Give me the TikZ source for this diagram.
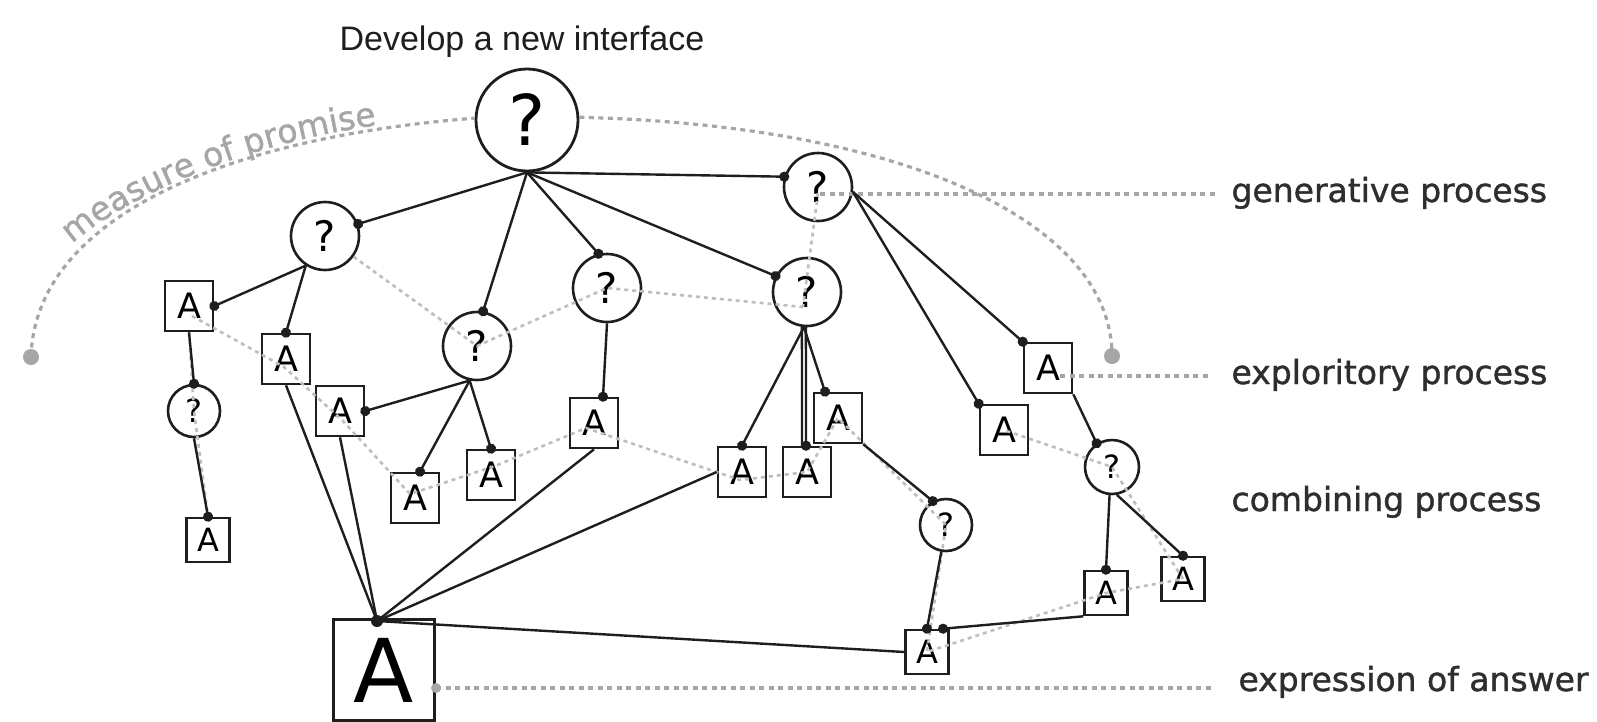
\documentclass[tikz,border=0pt]{standalone}
\usepackage{fontspec}
\setmainfont{DejaVu Sans}
\newfontfamily\titlefont{Liberation Sans}
\newfontfamily\procfont{DejaVu Sans}[FakeBold=1.2]
\usetikzlibrary{calc,arrows.meta,decorations.text}

\definecolor{inkc}{HTML}{1E1E1E}
\definecolor{dotgray}{HTML}{A6A6A6}
\definecolor{linkgray}{HTML}{BEBEBE}
\definecolor{labelc}{HTML}{2E2E2E}

\begin{document}
\begin{tikzpicture}[x=1pt,y=-1pt,
  qbig/.style={circle, draw=inkc, line width=2.8pt, inner sep=0pt, minimum size=102pt,
    font=\fontsize{70}{70}\selectfont},
  qnode/.style={circle, draw=inkc, line width=2.6pt, inner sep=0pt, minimum size=68pt,
    font=\fontsize{42}{42}\selectfont},
  qsmall/.style={qnode, minimum size=52pt, font=\fontsize{32}{32}\selectfont},
  anode/.style={rectangle, draw=inkc, line width=2.6pt, inner sep=0pt,
    minimum width=48pt, minimum height=50pt, font=\fontsize{35}{35}\selectfont},
  asmall/.style={anode, minimum width=43pt, minimum height=44pt,
    font=\fontsize{32}{32}\selectfont},
  abig/.style={anode, line width=3pt, minimum width=101pt, minimum height=101pt,
    font=\fontsize{88}{88}\selectfont},
  wire/.style={draw=inkc, line width=2.4pt},
  link/.style={wire, -{Circle[length=10pt,width=10pt]}, shorten >=-5pt},
  combine/.style={draw=linkgray, line width=2.6pt, dash pattern=on 4pt off 4pt},
  promise/.style={draw=dotgray, line width=3.2pt, dash pattern=on 5pt off 4.5pt},
  procname/.style={anchor=base west, text=labelc, font=\procfont\fontsize{33}{33}\selectfont},
]
\fill[white] (0,0) rectangle (1597,721);
\useasboundingbox (0,0) rectangle (1597,721);

% ---------- nodes ----------
\node[qbig] (root) at (527,120) {?};
\node[qnode] (q1) at (325,236) {?};
\node[qnode] (q2) at (477,346) {?};
\node[qnode] (q3) at (607,288) {?};
\node[qnode] (q4) at (807,292) {?};
\node[qnode] (q5) at (818,187) {?};
\node[qsmall] (ql) at (194,411) {?};
\node[qsmall] (q6) at (946,525) {?};
\node[qsmall, minimum size=54pt] (q7) at (1112,467) {?};

\node[anode] (a1) at (189,306) {A};
\node[anode] (a2) at (286,359) {A};
\node[anode] (a3) at (340,411) {A};
\node[anode] (a4) at (415,498) {A};
\node[anode] (a5) at (491,475) {A};
\node[anode] (a6) at (594,423) {A};
\node[anode] (a7) at (742,472) {A};
\node[anode] (a8) at (807,472) {A};
\node[anode] (a9) at (838,418) {A};
\node[anode] (a10) at (1004,430) {A};
\node[anode] (a11) at (1048,368) {A};
\node[asmall] (a12) at (1106,593) {A};
\node[asmall] (a13) at (1183,579) {A};
\node[asmall] (a14) at (927,652) {A};
\node[asmall] (abl) at (208,540) {A};
\node[abig] (bigA) at (384,670) {A};

\coordinate (hub) at ($(bigA.north)+(-7,3)$);
\coordinate (q4c) at ($(q4.center)+(-4,15)$);
\coordinate (ldot) at (31,357);
\coordinate (rdot) at (1112,356);
\coordinate (edot) at (436,688);
\coordinate (genend) at (1217,194);
\coordinate (expend) at (1212,376);
\coordinate (ansend) at (1212,688);

% ---------- labels ----------
\node[anchor=base, text=inkc, font=\titlefont\fontsize{34}{34}\selectfont] (title) at (522,50) {Develop a new interface};
\node[procname] (gen) at (1228,202) {generative process};
\node[procname] (expl) at (1228,384) {exploritory process};
\node[procname] (comb) at (1228,511) {combining process};
\node[procname] (ans) at (1235,691) {expression of answer};

% ---------- combining links ----------
\draw[combine] (q1) -- (q2.center) -- (q3.center) -- (q4c);
\draw[combine] ($(q5.center)+(0,6)$) -- (q4c);
\draw[combine] ($(a1)+(3,10)$) -- ($(a2)+(-2,8)$) -- ($(a3)+(2,9)$) -- ($(a4)+(-5,-4)$)
  -- ($(a5)+(4,-9)$) -- ($(a6)+(-8,5)$) -- ($(a7)+(-2,8)$) -- (a8.center) -- (a9.center)
  -- (q6.center) -- (a14.center) -- (a12.center) -- (a13.center) -- (q7.center) -- (a10.center);
\draw[combine] (a1.south) -- (ql.center) -- (abl.north);

% ---------- measure of promise ----------
\draw[promise] (ldot) .. controls (35,220) and (220,138) .. (root.178);
\draw[promise] (root.3) .. controls (900,125) and (1112,220) .. (rdot);
\fill[dotgray] (ldot) circle (8pt);
\fill[dotgray] (rdot) circle (8pt);
\path[decorate, decoration={text along path, text align=left, text color=dotgray,
    text={|\procfont\fontsize{33}{33}\selectfont|measure of promise}}]
  (72,244) .. controls (126,196) and (256,136) .. (412,121);

% ---------- process guide lines ----------
\draw[promise] ($(q5.center)+(2,7)$) -- (genend);
\draw[promise] ($(a11.center)+(12,8)$) -- (expend);
\draw[promise] (edot) -- (ansend);
\fill[dotgray] (edot) circle (5pt);

% ---------- generative links ----------
\draw[link] (root.south) -- (q1.20);
\draw[link] (root.south) -- (q2.80);
\draw[link] (root.south) -- (q3.104);
\draw[link] (root.south) -- (q4.153);
\draw[link] (root.south) -- (q5.163);

\draw[link] (q1.237) -- (a1.east);
\draw[link] (q1.237) -- (a2.north);
\draw[link] (a1.south) -- (ql.north);
\draw[link] (ql.south) -- (abl.north);

\draw[link] (q2.258) -- (a3.east);
\draw[link] (q2.258) -- ($(a4.north)+(5,0)$);
\draw[link] (q2.258) -- (a5.north);
\draw[link] (q3.south) -- ($(a6.north)+(9,0)$);

\draw[link] (q4.265) -- (a7.north);
\draw[wire] ($(q4.265)+(-2,0)$) -- ($(a8.north)+(-5,0)$);
\draw[link] ($(q4.265)+(2,0)$) -- ($(a8.north)+(-1,0)$);
\draw[link] (q4.265) -- ($(a9.north)+(-13,0)$);
\draw[link] (a9.south east) -- (q6.119);
\draw[link] (q6.260) -- (a14.north);

\draw[link] (q5.-8) -- (a10.north west);
\draw[link] (q5.-8) -- (a11.north west);
\draw[link] (a11.south east) -- (q7.123);
\draw[link] (q7.265) -- (a12.north);
\draw[link] (q7.280) -- (a13.north);

% ---------- links into the answer ----------
\draw[wire] (hub) -- (a2.south);
\draw[wire] (hub) -- (a3.south);
\draw[wire] (hub) -- (a6.south);
\draw[wire] (hub) -- (a7.west);
\draw[wire] (hub) -- (a14.west);
\fill[inkc] (hub) circle (6pt);
\draw[link] (a12.south west) -- ($(a14.north)+(16,0)$);
\end{tikzpicture}
\end{document}
